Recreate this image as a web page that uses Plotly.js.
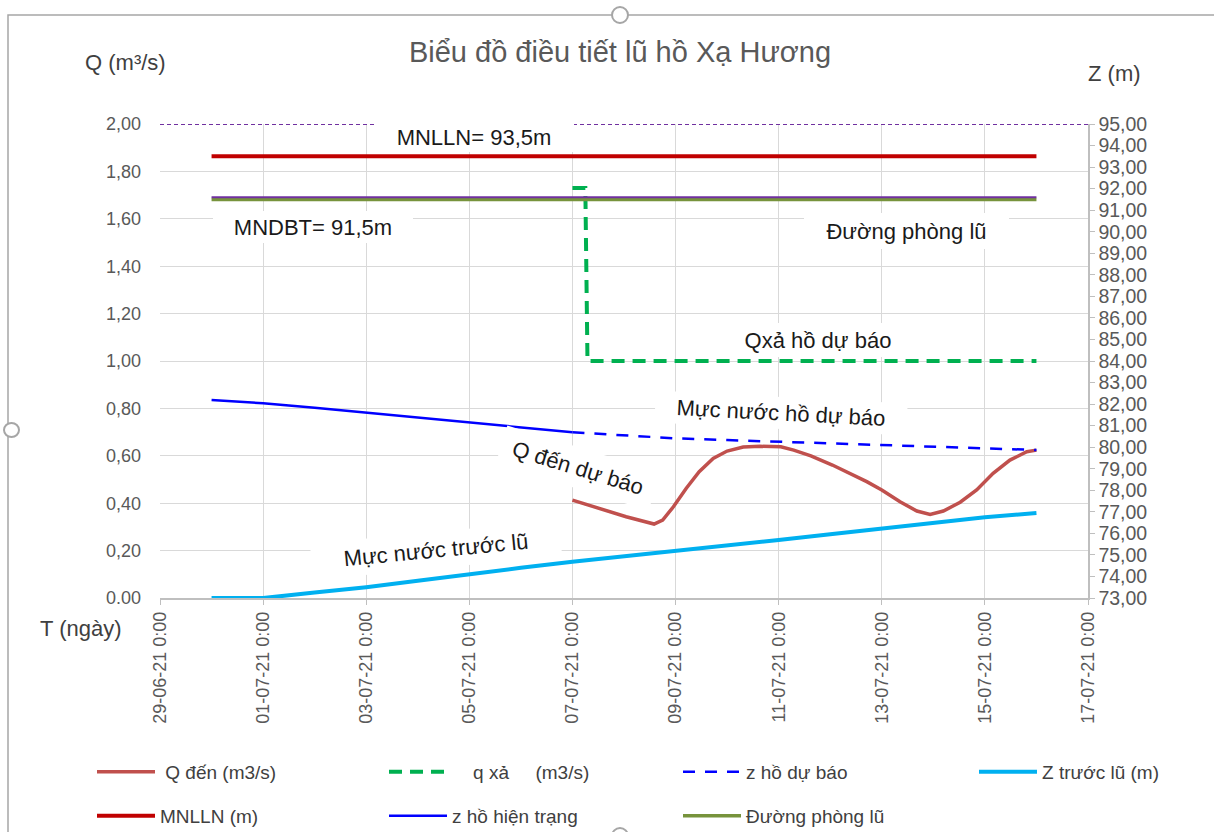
<!DOCTYPE html>
<html>
<head>
<meta charset="utf-8">
<script src="https://cdn.plot.ly/plotly-3.0.1.min.js"></script>
<style>html,body{margin:0;padding:0;background:#fff;}#chart{width:1214px;height:832px;}</style>
</head>
<body>
<div id="chart"></div>
<script>
// ---------- data ----------
const tQden = ['2021-07-07 00:00','2021-07-07 10:00','2021-07-08 01:00','2021-07-08 14:00','2021-07-08 18:00',
  '2021-07-08 23:00','2021-07-09 05:00','2021-07-09 11:00','2021-07-09 17:30','2021-07-10 00:00',
  '2021-07-10 07:30','2021-07-10 15:20','2021-07-11 01:00','2021-07-11 07:00','2021-07-11 15:00',
  '2021-07-12 01:00','2021-07-12 17:00','2021-07-13 00:00','2021-07-13 08:30','2021-07-13 16:20',
  '2021-07-13 22:30','2021-07-14 04:40','2021-07-14 12:30','2021-07-14 20:10','2021-07-15 03:50',
  '2021-07-15 11:40','2021-07-15 19:30','2021-07-16 00:00'];
const qDen = [0.413,0.385,0.343,0.312,0.329,0.385,0.463,0.533,0.589,0.620,0.637,0.640,0.638,0.624,0.600,
  0.561,0.491,0.456,0.406,0.367,0.353,0.367,0.404,0.456,0.526,0.582,0.617,0.624];

const tQxa = ['2021-07-07 00:00','2021-07-07 06:00','2021-07-07 07:00','2021-07-16 00:00'];
const qXa = [1.73,1.73,1.00,1.00];

const tZduBao = ['2021-07-07','2021-07-08','2021-07-09','2021-07-10','2021-07-11','2021-07-12',
  '2021-07-13','2021-07-14','2021-07-15','2021-07-16'];
const zDuBao = [80.69,80.54,80.41,80.33,80.25,80.17,80.10,80.02,79.95,79.87];

const tZtruocLu = ['2021-06-30','2021-07-01','2021-07-02','2021-07-03','2021-07-04','2021-07-05','2021-07-06',
  '2021-07-07','2021-07-08','2021-07-09','2021-07-10','2021-07-11','2021-07-12','2021-07-13','2021-07-14',
  '2021-07-15','2021-07-16'];
const zTruocLu = [73.00,73.00,73.25,73.50,73.80,74.11,74.40,74.68,74.93,75.15,75.42,75.69,75.96,76.23,76.49,76.75,76.94];

const tZhienTrang = ['2021-06-30','2021-07-01','2021-07-02','2021-07-03','2021-07-04','2021-07-05','2021-07-06','2021-07-07'];
const zHienTrang = [82.19,82.04,81.83,81.60,81.37,81.14,80.90,80.69];

const tLevel = ['2021-06-30','2021-07-16'];
const mnlln = [93.5,93.5];
const duongPhongLu = [91.5,91.5];
const mndbt = [91.6,91.6];
const tTop = ['2021-06-29','2021-07-17'];
const topLevel = [95,95];

const qTickVals = [0,0.2,0.4,0.6,0.8,1.0,1.2,1.4,1.6,1.8,2.0];
const qTickText = ['0.00','0,20','0,40','0,60','0,80','1,00','1,20','1,40','1,60','1,80','2,00'];

const NB = '\u00a0';
const names = {
  qden: NB + 'Q đến (m3/s)',
  qxa: NB.repeat(4) + 'q xả' + NB.repeat(5) + '(m3/s)',
  zdb: 'z hồ dự báo',
  ztl: 'Z trước lũ (m)',
  mnlln: 'MNLLN (m)',
  zht: 'z hồ hiện trạng',
  dpl: 'Đường phòng lũ'
};

// ---------- layout helpers (pixel -> paper) ----------
const L = 160, R = 1088, T = 124, B = 598;
const PX = x => (x - L) / (R - L);
const PY = y => (B - y) / (B - T);
const FONT = 'Liberation Sans, Arial, sans-serif';

const traces = [
  {x: tQden, y: qDen, name: names.qden, mode: 'lines', line: {color: '#C0504D', width: 3.5}, yaxis: 'y', legend: 'legend'},
  {x: tQxa, y: qXa, name: names.qxa, mode: 'lines', line: {color: '#00B050', width: 4, dash: '13px,8px'}, yaxis: 'y', legend: 'legend2'},
  {x: tZduBao, y: zDuBao, name: names.zdb, mode: 'lines', line: {color: '#0000FF', width: 2.5, dash: '12px,10px'}, yaxis: 'y2', legend: 'legend3'},
  {x: tZtruocLu, y: zTruocLu, name: names.ztl, mode: 'lines', line: {color: '#00B0F0', width: 4}, yaxis: 'y2', legend: 'legend4'},
  {x: tLevel, y: mnlln, name: names.mnlln, mode: 'lines', line: {color: '#C00000', width: 4}, yaxis: 'y2', legend: 'legend5'},
  {x: tZhienTrang, y: zHienTrang, name: names.zht, mode: 'lines', line: {color: '#0000FF', width: 2.5}, yaxis: 'y2', legend: 'legend6'},
  {x: tLevel, y: duongPhongLu, name: names.dpl, mode: 'lines', line: {color: '#77933C', width: 3.5}, yaxis: 'y2', legend: 'legend7'},
  {x: tLevel, y: mndbt, name: 'MNDBT', mode: 'lines', line: {color: '#7030A0', width: 2}, yaxis: 'y2', showlegend: false},
  {x: tTop, y: topLevel, name: 'top', mode: 'lines', line: {color: '#7030A0', width: 2, dash: '4px,3px'}, yaxis: 'y2', showlegend: false}
];

function box(text, cx, cy, w, h, angle) {
  return {xref: 'paper', yref: 'paper', x: PX(cx), y: PY(cy), xanchor: 'center', yanchor: 'middle',
    text: text, showarrow: false, width: w, height: h, bgcolor: '#FFFFFF', borderpad: 0, borderwidth: 0,
    textangle: angle || 0, font: {family: FONT, size: 22, color: '#1a1a1a'}};
}
function label(text, cx, cy, size) {
  return {xref: 'paper', yref: 'paper', x: PX(cx), y: PY(cy), xanchor: 'center', yanchor: 'middle',
    text: text, showarrow: false, font: {family: FONT, size: size, color: '#404040'}};
}

const annotations = [
  label('Q (m³/s)', 125, 62, 22),
  label('Z (m)', 1114, 73, 22),
  label('T (ngày)', 81, 628, 22),
  box('MNLLN= 93,5m', 474, 137, 200, 30),
  box('MNDBT= 91,5m', 313, 227, 200, 32),
  box('Đường phòng lũ', 906, 231, 205, 36),
  box('Qxả hồ dự báo', 818, 340, 190, 34),
  box('Mực nước hồ dự báo', 781, 413, 252, 32, 3),
  box('Q đến dự báo', 578, 468, 160, 40, 17),
  box('Mực nước trước lũ', 436, 550, 250, 36, -5.5)
];

const shapes = [
  {type: 'rect', xref: 'paper', yref: 'paper', x0: PX(8), x1: PX(1240), y0: PY(860), y1: PY(15),
    line: {color: '#A6A6A6', width: 1.5}, fillcolor: 'rgba(0,0,0,0)'},
  {type: 'circle', xref: 'paper', yref: 'paper', x0: PX(612), x1: PX(628), y0: PY(23), y1: PY(7),
    line: {color: '#A6A6A6', width: 2}, fillcolor: '#FFFFFF'},
  {type: 'circle', xref: 'paper', yref: 'paper', x0: PX(4), x1: PX(19), y0: PY(437), y1: PY(423),
    line: {color: '#A6A6A6', width: 2}, fillcolor: '#FFFFFF'},
  {type: 'circle', xref: 'paper', yref: 'paper', x0: PX(612), x1: PX(628), y0: PY(844), y1: PY(828),
    line: {color: '#A6A6A6', width: 2}, fillcolor: '#FFFFFF'}
];

const tickFont = {family: FONT, size: 18, color: '#595959'};
function leg(px, py) {
  return {orientation: 'h', xanchor: 'left', yanchor: 'middle', x: PX(px), y: PY(py),
    itemwidth: 58, bgcolor: 'rgba(0,0,0,0)', borderwidth: 0,
    font: {family: FONT, size: 19, color: '#404040'}};
}

const layout = {
  width: 1214, height: 832,
  margin: {l: L, r: 1214 - R, t: T, b: 832 - B, pad: 0, autoexpand: false},
  paper_bgcolor: '#FFFFFF', plot_bgcolor: '#FFFFFF',
  separators: ',.',
  hovermode: false,
  font: {family: FONT},
  title: {text: 'Biểu đồ điều tiết lũ hồ Xạ Hương', x: 620 / 1214, xanchor: 'center', xref: 'container',
    y: 1 - 52 / 832, yanchor: 'middle', yref: 'container', font: {family: FONT, size: 29, color: '#595959'}},
  xaxis: {type: 'date', range: ['2021-06-29', '2021-07-17'], tick0: '2021-06-29', dtick: 2 * 86400000,
    tickformat: '%d-%m-%y %-H:%M', tickangle: -90, tickfont: tickFont, automargin: false,
    showgrid: true, gridcolor: '#D9D9D9', gridwidth: 1, zeroline: false,
    showline: true, linecolor: '#BFBFBF', linewidth: 1.5, ticks: 'outside', ticklen: 5, tickcolor: '#BFBFBF',
    fixedrange: true},
  yaxis: {range: [0, 2], tickvals: qTickVals, ticktext: qTickText, tickfont: tickFont, automargin: false,
    showgrid: true, gridcolor: '#D9D9D9', gridwidth: 1, zeroline: false, showline: false, ticks: '',
    ticklabelstandoff: 18, fixedrange: true},
  yaxis2: {overlaying: 'y', side: 'right', range: [73, 95], tick0: 73, dtick: 1, tickformat: '.2f',
    tickfont: {family: FONT, size: 19.5, color: '#595959'}, automargin: false,
    showgrid: false, zeroline: false, showline: true, linecolor: '#BFBFBF', linewidth: 1.5,
    ticks: 'outside', ticklen: 5, tickcolor: '#BFBFBF', fixedrange: true},
  legend: leg(92, 772),
  legend2: leg(384, 772),
  legend3: leg(678, 772),
  legend4: leg(974, 772),
  legend5: leg(92, 816),
  legend6: leg(384, 816),
  legend7: leg(678, 816),
  annotations: annotations,
  shapes: shapes
};

Plotly.newPlot('chart', traces, layout, {staticPlot: true, displayModeBar: false});
</script>
</body>
</html>
